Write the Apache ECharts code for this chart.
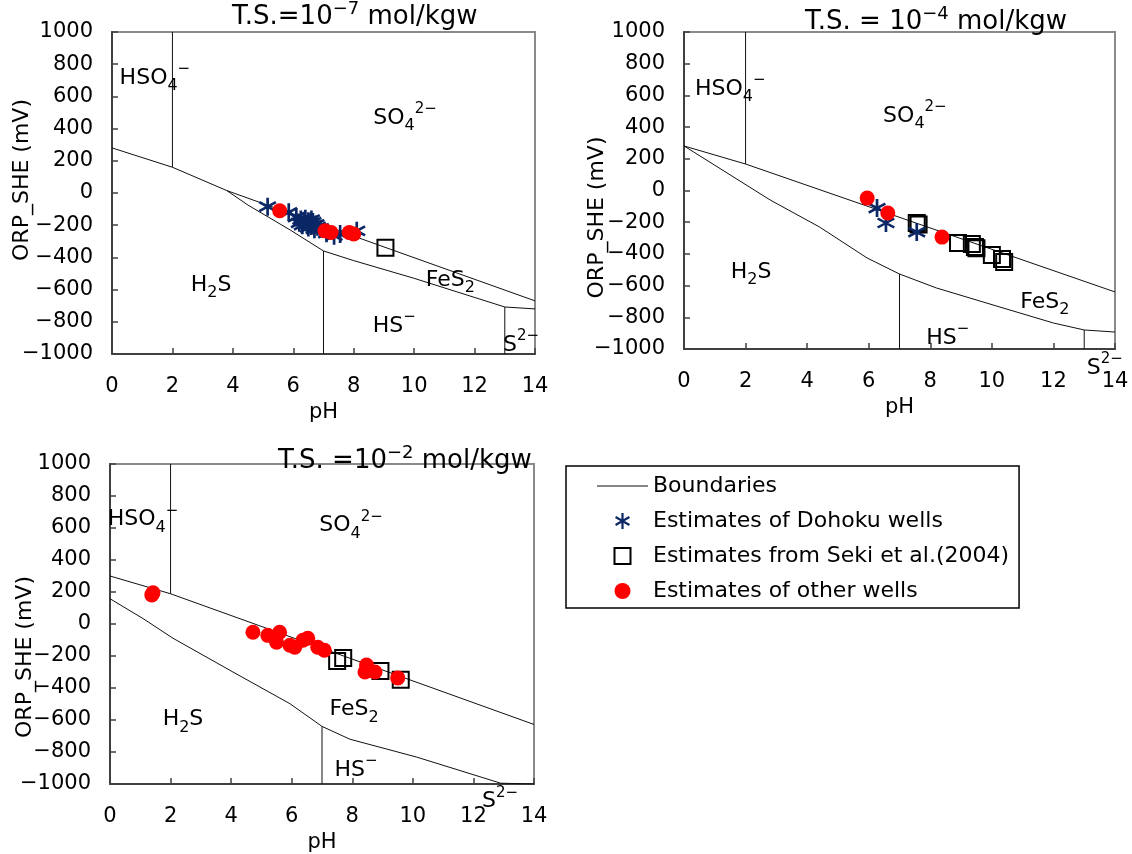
<!DOCTYPE html>
<html><head><meta charset="utf-8">
<script src="https://cdn.jsdelivr.net/npm/echarts@6/dist/echarts.min.js"></script>
<style>html,body{margin:0;padding:0;background:#fff}#c{width:1132px;height:854px}</style>
</head><body><div id="c"></div>
<script>
// ---------- axis ticks ----------
const xMin = 0, xMax = 14, xStep = 2;
const yMin = -1000, yMax = 1000, yStep = 200;

// ---------- titles ----------
const titles = ['T.S.=10{sup|−7} mol/kgw', 'T.S. = 10{sup|−4} mol/kgw', 'T.S. =10{sup|−2} mol/kgw'];

// ---------- legend names ----------
const legendNames = ['Boundaries', 'Estimates of Dohoku wells', 'Estimates from Seki et al.(2004)', 'Estimates of other wells'];

// ---------- Panel 1 : T.S. = 1e-7 ----------
const p1Upper = [[0,280],[2,160],[3.8,15],[9,-335],[14,-670]];
const p1Lower = [[3.8,15],[4.5,-75],[5.9,-230],[7,-360],[8,-420],[10,-530],[13,-708],[14,-720]];
const p1Vert = [[[2,160],[2,1000]], [[7,-360],[7,-1000]], [[13,-708],[13,-1000]]];
const p1Dohoku = [[5.15,-85],[5.85,-120],[6.1,-150],[6.2,-185],[6.25,-165],[6.3,-200],[6.35,-175],[6.4,-160],[6.45,-195],[6.5,-215],[6.5,-175],[6.55,-185],[6.6,-205],[6.6,-165],[6.65,-180],[6.7,-225],[6.75,-195],[6.8,-210],[6.9,-220],[7.1,-250],[7.35,-265],[7.55,-255],[8.1,-235]];
const p1Seki = [[9.05,-340]];
const p1Other = [[5.55,-110],[7.05,-235],[7.25,-245],[7.85,-245],[8.0,-255]];
const p1Labels = [[1.42,714,'HSO{sub|4}{sup|−}'],[9.7,466,'SO{sub|4}{sup|2−}'],[3.28,-571,'H{sub|2}S'],[11.2,-540,'FeS{sub|2}'],[9.34,-826,'HS{sup|−}'],[13.54,-944,'S{sup|2−}']];

// ---------- Panel 2 : T.S. = 1e-4 ----------
const p2Upper = [[0,281],[2,167],[14,-640]];
const p2Lower = [[0,281],[1.2,135],[2.8,-60],[4.4,-230],[5.95,-426],[7,-527],[8.2,-615],[10.36,-741],[12,-836],[13,-880],[14,-893]];
const p2Vert = [[[2,167],[2,1000]], [[7,-527],[7,-1000]], [[13,-880],[13,-1000]]];
const p2Dohoku = [[6.27,-111],[6.56,-205],[7.56,-262]];
const p2Seki = [[7.56,-205],[7.62,-215],[8.9,-331],[9.35,-338],[9.45,-357],[9.5,-365],[10.0,-407],[10.33,-432],[10.4,-451]];
const p2Other = [[5.95,-48],[6.62,-142],[8.38,-294]];
const p2Labels = [[1.5,640,'HSO{sub|4}{sup|−}'],[7.5,470,'SO{sub|4}{sup|2−}'],[2.18,-514,'H{sub|2}S'],[11.72,-704,'FeS{sub|2}'],[8.57,-931,'HS{sup|−}'],[13.67,-1120,'S{sup|2−}']];

// ---------- Panel 3 : T.S. = 1e-2 ----------
const p3Upper = [[0,300],[2,189],[14,-628]];
const p3Lower = [[0,158],[1.09,34],[2.08,-89],[4.06,-300],[5.94,-498],[7,-640],[7.92,-720],[10.13,-832],[12.9,-995],[14,-1000]];
const p3Vert = [[[2,189],[2,1000]], [[7,-640],[7,-1000]]];
const p3Dohoku = [];
const p3Seki = [[7.7,-213],[7.5,-232],[8.93,-294],[9.6,-349]];
const p3Other = [[1.42,195],[1.38,182],[4.72,-52],[5.21,-71],[5.6,-52],[5.5,-114],[5.94,-133],[6.1,-145],[6.37,-102],[6.53,-89],[6.86,-145],[7.08,-164],[8.47,-256],[8.42,-300],[8.75,-300],[9.5,-337]];
const p3Labels = [[1.09,653,'HSO{sub|4}{sup|−}'],[7.96,616,'SO{sub|4}{sup|2−}'],[2.41,-597,'H{sub|2}S'],[8.06,-535,'FeS{sub|2}'],[8.12,-913,'HS{sup|−}'],[12.88,-1111,'S{sup|2−}']];

// ---------- build ----------
const FONT = 'DejaVu Sans';
const panels = [
  {upper:p1Upper, lower:p1Lower, vert:p1Vert, doh:p1Dohoku, seki:p1Seki, other:p1Other, labels:p1Labels},
  {upper:p2Upper, lower:p2Lower, vert:p2Vert, doh:p2Dohoku, seki:p2Seki, other:p2Other, labels:p2Labels},
  {upper:p3Upper, lower:p3Lower, vert:p3Vert, doh:p3Dohoku, seki:p3Seki, other:p3Other, labels:p3Labels}
];
const grids = [
  {left:112, top:32, width:423, height:322},
  {left:684, top:32, width:431, height:317},
  {left:110, top:464, width:424, height:323}
];
const yNameGap = [79, 76, 74];
const yNamePad = [[0,0,0,26], [0,54,0,0], [0,66,0,0]];
const ASTER = 'path://M43 0L57 0L57 100L43 100Z M89.8 18.9L96.8 31.1L10.2 81.1L3.2 68.9Z M3.2 31.1L10.2 18.9L96.8 68.9L89.8 81.1Z';
const richText = {
  sub:{fontSize:16, fontFamily:FONT, color:'#000', verticalAlign:'bottom'},
  sup:{fontSize:15, fontFamily:FONT, color:'#000', verticalAlign:'top'}
};

const xAxes = [], yAxes = [], series = [], gridOpts = [];
panels.forEach((p, i) => {
  gridOpts.push(Object.assign({show:true, borderColor:'#8a8a8a', borderWidth:2, backgroundColor:'#fff'}, grids[i]));
  xAxes.push({
    type:'value', gridIndex:i, min:xMin, max:xMax, interval:xStep,
    name:'pH', nameLocation:'middle', nameGap:48, nameMoveOverlap:false,
    nameTextStyle:{fontSize:21, fontFamily:FONT, color:'#000'},
    axisLine:{show:true, onZero:false, lineStyle:{color:'#404040', width:2}},
    axisTick:{show:true, inside:true, length:6, lineStyle:{color:'#404040', width:1.5}},
    axisLabel:{fontSize:21, fontFamily:FONT, color:'#000', margin:22},
    splitLine:{show:false}
  });
  yAxes.push({
    type:'value', gridIndex:i, min:yMin, max:yMax, interval:yStep,
    name:'ORP_SHE (mV)', nameLocation:'middle', nameGap:yNameGap[i], nameRotate:90, nameMoveOverlap:false,
    nameTextStyle:{fontSize:22, fontFamily:FONT, color:'#000', padding:yNamePad[i]},
    axisLine:{show:true, onZero:false, lineStyle:{color:'#404040', width:2}},
    axisTick:{show:true, inside:true, length:6, lineStyle:{color:'#404040', width:1.5}},
    axisLabel:{fontSize:21, fontFamily:FONT, color:'#000', margin:19, formatter: v => String(v).replace('-', '−')},
    splitLine:{show:false}
  });
  const lineSeg = data => ({
    type:'line', name:'Boundaries', xAxisIndex:i, yAxisIndex:i, data:data,
    symbol:'none', silent:true, z:2, lineStyle:{color:'#111', width:1}, itemStyle:{color:'#111'}
  });
  series.push(lineSeg(p.upper));
  series.push(lineSeg(p.lower));
  p.vert.forEach(v => series.push(lineSeg(v)));
  series.push({
    type:'scatter', name:legendNames[2], xAxisIndex:i, yAxisIndex:i, data:p.seki, z:3,
    symbol:'rect', symbolSize:16,
    itemStyle:{color:'rgba(255,255,255,0)', borderColor:'#000', borderWidth:2, opacity:1}
  });
  series.push({
    type:'scatter', name:legendNames[1], xAxisIndex:i, yAxisIndex:i, data:p.doh, z:4,
    symbol:ASTER, symbolSize:18, itemStyle:{color:'#0b2766', opacity:1}
  });
  series.push({
    type:'scatter', name:legendNames[3], xAxisIndex:i, yAxisIndex:i, data:p.other, z:5,
    symbol:'circle', symbolSize:15, itemStyle:{color:'#ff0000', opacity:1}
  });
  series.push({
    type:'scatter', name:'region labels ' + i, xAxisIndex:i, yAxisIndex:i, clip:false, silent:true, z:6,
    symbolSize:1, itemStyle:{color:'rgba(255,255,255,0)', opacity:1},
    data:p.labels.map(l => ({value:[l[0], l[1]], label:{formatter:l[2]}})),
    label:{show:true, position:'inside', fontSize:22, fontFamily:FONT, color:'#000', opacity:1, textBorderWidth:0, lineHeight:32, rich:richText}
  });
});

const titleLeft = [232, 805, 278];
const titleTop = [0, 5, 444];
const option = {
  backgroundColor:'#fff',
  animation:false,
  title: titles.map((t, i) => ({
    text:t, left:titleLeft[i], top:titleTop[i], padding:0, z:10,
    textStyle:{fontSize:26, fontWeight:'normal', fontFamily:FONT, color:'#000', lineHeight:34,
      rich:{sup:{fontSize:18, fontFamily:FONT, color:'#000', verticalAlign:'top'}}}
  })),
  grid: gridOpts,
  xAxis: xAxes,
  yAxis: yAxes,
  legend: {
    data: [
      {name:legendNames[0], icon:'path://M0 0L51 0L51 1.2L0 1.2Z'},
      {name:legendNames[1]},
      {name:legendNames[2], icon:'path://M0 0L10 0L10 10L0 10Z'},
      {name:legendNames[3], icon:'circle'}
    ],
    orient:'vertical', left:566, top:466,
    padding:[9, 10, 6, 31], itemGap:13, itemWidth:51, itemHeight:16,
    borderColor:'#000', borderWidth:1.5, selectedMode:false,
    textStyle:{fontSize:22, fontFamily:FONT, color:'#000'}
  },
  series: series
};
const chart = echarts.init(document.getElementById('c'), null, {renderer:'canvas'});
chart.setOption(option);
</script>
</body></html>
